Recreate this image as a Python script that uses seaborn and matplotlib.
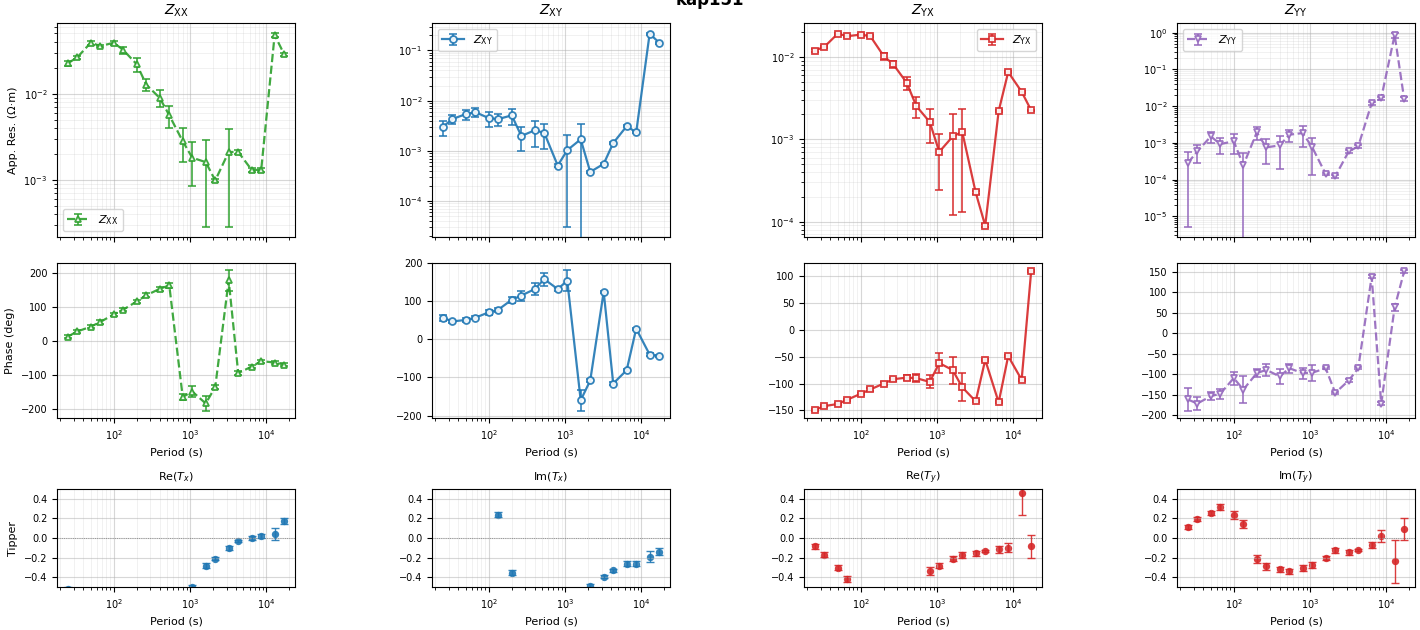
import numpy as np
import matplotlib
matplotlib.use("Agg")
import matplotlib.pyplot as plt
import seaborn as sns
from matplotlib.legend_handler import HandlerTuple
from matplotlib.ticker import MaxNLocator

nan = np.nan

# Periodos (s)
period = [25.0, 33.3, 50.0, 66.7, 100.0, 133.3, 200.0, 266.7, 400.0, 533.3,
          800.0, 1066.7, 1600.0, 2133.3, 3200.0, 4266.7, 6400.0, 8533.3, 12800.0, 17066.7]

# Resistividade aparente e fase de cada componente
rho_xx = [0.0225, 0.0264, 0.0391, 0.0357, 0.0390, 0.0321, 0.0219, 0.0127, 0.0089, 0.0056,
          0.0028, 0.0018, 0.0016, 0.00098, 0.0021, 0.0021, 0.0013, 0.0013, 0.048, 0.0286]
rho_xx_err = [0.0017, 0.001, 0.002, 0.001, 0.002, 0.003, 0.004, 0.002, 0.002, 0.0016,
              0.0012, 0.00095, 0.00132, 0.00005, 0.00182, 0.0001, 0.00007, 0.00007, 0.003, 0.001]
pha_xx = [13, 28, 42, 56, 78, 92, 116, 134, 153, 163, -164, -148, -183, -135, 178, -94, -75, -59, -63, -69]
pha_xx_err = [4, 4, 4, 5, 5, 5, 5, 6, 6, 7, 10, 17, 22, 5, 30, 5, 4, 4, 4, 4]

rho_xy = [0.0030, 0.0043, 0.0054, 0.0059, 0.0045, 0.0043, 0.0051, 0.00198, 0.00257, 0.00228,
          0.00051, 0.00103, 0.0017, 0.00038, 0.00055, 0.00143, 0.0031, 0.00234, 0.216, 0.143]
rho_xy_err = [0.001, 0.0009, 0.0012, 0.0012, 0.0015, 0.0012, 0.0018, 0.001, 0.0014, 0.0012,
              0.00003, 0.001, 0.0018, 0.00002, 0.00003, 0.00007, 0.00015, 0.0001, 0.01, 0.006]
pha_xy = [57, 47, 51, 57, 71, 78, 104, 115, 132, 158, 132, 154, -160, -108, 125, -116, -81, 28, -40, -44]
pha_xy_err = [8, 3, 5, 4, 6, 5, 8, 13, 15, 17, 4, 28, 28, 4, 3, 3, 3, 3, 3, 3]

rho_yx = [0.0119, 0.0132, 0.0191, 0.0178, 0.0186, 0.0178, 0.0102, 0.0081, 0.00484, 0.00253,
          0.00162, 0.000703, 0.00108, 0.00123, 0.000226, 0.0000895, 0.0022, 0.00653, 0.00377, 0.00224]
rho_yx_err = [0.0004, 0.0004, 0.0005, 0.0005, 0.0005, 0.0005, 0.001, 0.0008, 0.0009, 0.0007,
              0.00073, 0.00046, 0.00096, 0.0011, 0.00001, 0.000004, 0.00006, 0.0002, 0.0001, 0.00005]
pha_yx = [-149, -142, -138, -130, -119, -111, -100, -92, -89, -90, -97, -62, -75, -107, -133, -56, -135, -49, -93, 109]
pha_yx_err = [2, 2, 2, 2, 2, 2, 2, 3, 4, 8, 12, 19, 25, 26, 2, 2, 2, 2, 2, 2]

rho_yy = [0.000281, 0.000583, 0.00149, 0.000924, 0.0011, 0.000243, 0.00192, 0.00075, 0.00085, 0.00166,
          0.00184, 0.00075, 0.000141, 0.000122, 0.00058, 0.000795, 0.012, 0.0164, 0.865, 0.0155]
rho_yy_err = [0.000276, 0.0003, 0.0005, 0.00044, 0.0006, 0.00027, 0.00075, 0.00048, 0.00066, 0.0006,
              0.00106, 0.00062, 0.00001, 0.00001, 0.00004, 0.00006, 0.001, 0.0015, 0.13, 0.002]
pha_yy = [-161, -171, -153, -147, -109, -137, -97, -89, -105, -85, -97, -96, -85, -145, -115, -85, 138, -171, 63, 151]
pha_yy_err = [28, 16, 10, 12, 16, 32, 10, 15, 18, 11, 13, 20, 3, 3, 3, 3, 3, 4, 8, 3]

# Tipper
re_tx = [-0.52, nan, nan, nan, nan, nan, nan, nan, nan, nan,
         nan, -0.497, -0.283, -0.21, -0.103, -0.031, -0.003, 0.02, 0.041, 0.172]
re_tx_err = [0.02, nan, nan, nan, nan, nan, nan, nan, nan, nan,
             nan, 0.02, 0.025, 0.015, 0.02, 0.012, 0.02, 0.025, 0.065, 0.03]
im_tx = [nan, nan, nan, nan, nan, 0.238, -0.355, nan, nan, nan,
         nan, nan, nan, -0.49, -0.393, -0.331, -0.262, -0.262, -0.19, -0.138]
im_tx_err = [nan, nan, nan, nan, nan, 0.025, 0.025, nan, nan, nan,
             nan, nan, nan, 0.02, 0.02, 0.015, 0.025, 0.025, 0.055, 0.035]
re_ty = [-0.086, -0.169, -0.303, -0.414, nan, nan, nan, nan, nan, nan,
         -0.341, -0.283, -0.21, -0.172, -0.155, -0.134, -0.117, -0.097, 0.462, -0.086]
re_ty_err = [0.025, 0.025, 0.025, 0.03, nan, nan, nan, nan, nan, nan,
             0.04, 0.025, 0.025, 0.03, 0.025, 0.01, 0.035, 0.05, 0.224, 0.12]
im_ty = [0.11, 0.197, 0.255, 0.317, 0.234, 0.141, -0.217, -0.29, -0.321, -0.341,
         -0.31, -0.279, -0.207, -0.124, -0.145, -0.124, -0.072, 0.021, -0.238, 0.09]
im_ty_err = [0.02, 0.02, 0.025, 0.03, 0.04, 0.04, 0.04, 0.035, 0.03, 0.025,
             0.03, 0.03, 0.02, 0.025, 0.025, 0.01, 0.035, 0.06, 0.22, 0.115]

comps = [
    (r'$Z_{\mathrm{XX}}$', rho_xx, rho_xx_err, pha_xx, pha_xx_err, '#2ca02c', '^', '--', 'lower left'),
    (r'$Z_{\mathrm{XY}}$', rho_xy, rho_xy_err, pha_xy, pha_xy_err, '#1f77b4', 'o', '-', 'upper left'),
    (r'$Z_{\mathrm{YX}}$', rho_yx, rho_yx_err, pha_yx, pha_yx_err, '#d62728', 's', '-', 'upper right'),
    (r'$Z_{\mathrm{YY}}$', rho_yy, rho_yy_err, pha_yy, pha_yy_err, '#9467bd', 'v', '--', 'upper left'),
]
tippers = [
    (r'Re($T_x$)', re_tx, re_tx_err, '#1f77b4'),
    (r'Im($T_x$)', im_tx, im_tx_err, '#1f77b4'),
    (r'Re($T_y$)', re_ty, re_ty_err, '#d62728'),
    (r'Im($T_y$)', im_ty, im_ty_err, '#d62728'),
]

plt.rcParams['font.size'] = 8
fig = plt.figure(figsize=(14.2, 6.3), dpi=100)

lefts = [57, 432, 804, 1177]
W = 238
rows = [(23, 237), (263, 418), (489, 587)]  # topo, base em pixels


def rect(col, row):
    top, bot = rows[row]
    return [lefts[col] / 1420, (630 - bot) / 630, W / 1420, (bot - top) / 630]


def style_grid(ax):
    ax.grid(True, which='major', alpha=0.5, lw=0.8)
    ax.grid(True, which='minor', alpha=0.2, lw=0.6)
    ax.tick_params(labelsize=7)


ax_ref = None
for j, (lab, rho, rho_e, pha, pha_e, c, mk, ls, loc) in enumerate(comps):
    ax1 = fig.add_axes(rect(j, 0), sharex=ax_ref)
    if ax_ref is None:
        ax_ref = ax1
    ax2 = fig.add_axes(rect(j, 1), sharex=ax_ref)

    for ax, y, e in [(ax1, rho, rho_e), (ax2, pha, pha_e)]:
        eb = ax.errorbar(period, y, yerr=e, fmt='none', ecolor=c, alpha=0.9,
                         capsize=3, elinewidth=1.2, capthick=1.2)
        sns.lineplot(x=period, y=y, ax=ax, color=c, alpha=0.9, linestyle=ls, linewidth=1.6,
                     marker=mk, markersize=5, markerfacecolor='white', markeredgecolor=c,
                     markeredgewidth=1.3, legend=False, sort=False)
        style_grid(ax)
        if ax is ax1:
            line = ax.lines[-1]
            ax.legend([(eb, line)], [lab], loc=loc, fontsize=8,
                      handler_map={tuple: HandlerTuple(ndivide=1)})

    ax1.set_xscale('log')
    ax1.set_yscale('log')
    ax1.set_title(lab, fontsize=10)
    ax1.tick_params(labelbottom=False)
    ax2.yaxis.set_major_locator(MaxNLocator(nbins=8, steps=[1, 2, 2.5, 5, 10]))
    ax2.set_xlabel('Period (s)', fontsize=8)
    if j == 0:
        ax1.set_ylabel('App. Res. (Ω·m)', fontsize=8)
        ax2.set_ylabel('Phase (deg)', fontsize=8)

for j, (lab, y, e, c) in enumerate(tippers):
    ax = fig.add_axes(rect(j, 2), sharex=ax_ref)
    ax.axhline(0, color='gray', linestyle=':', linewidth=0.6)
    ax.errorbar(period, y, yerr=e, fmt='none', ecolor=c, alpha=0.9,
                capsize=3, elinewidth=1.0, capthick=1.0)
    sns.scatterplot(x=period, y=y, ax=ax, color=c, alpha=0.9, s=28, linewidth=0, legend=False)
    ax.set_ylim(-0.5, 0.5)
    ax.set_yticks([-0.4, -0.2, 0.0, 0.2, 0.4])
    ax.set_title(lab, fontsize=8)
    ax.set_xlabel('Period (s)', fontsize=8)
    style_grid(ax)
    if j == 0:
        ax.set_ylabel('Tipper', fontsize=8)

# limites do eixo x com margem de 5% em escala log
lo, hi = np.log10(min(period)), np.log10(max(period))
m = 0.05 * (hi - lo)
ax_ref.set_xlim(10 ** (lo - m), 10 ** (hi + m))

fig.text(0.5, 1.0, 'kap151', ha='center', va='center', fontsize=12, fontweight='bold')

fig.savefig('out.png', dpi=100)
